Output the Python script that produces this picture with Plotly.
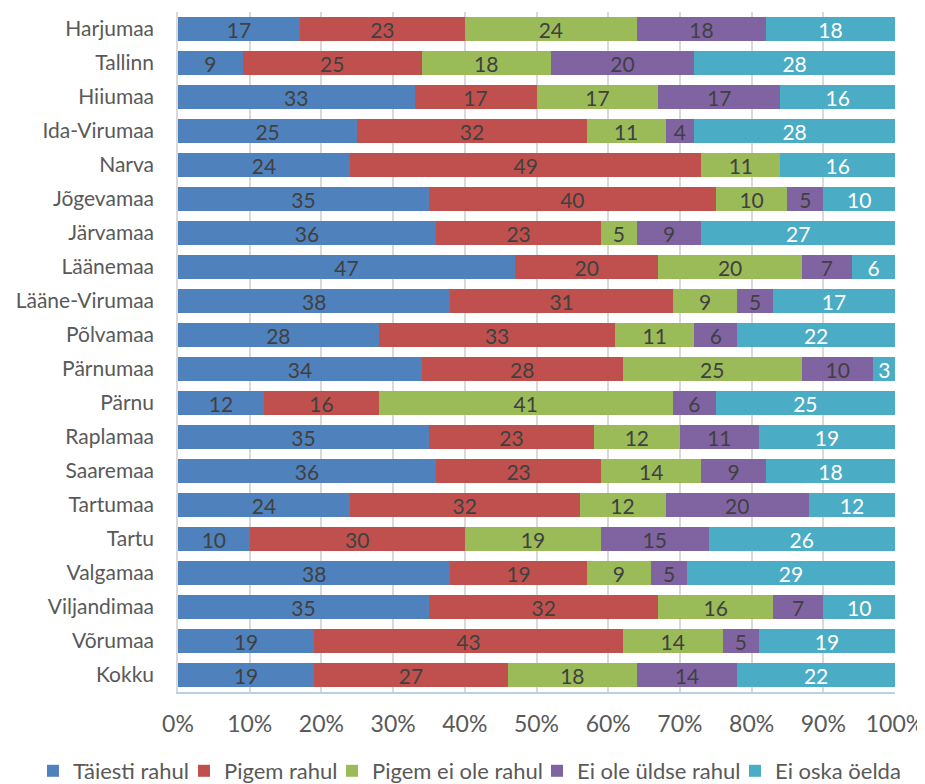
import plotly.graph_objects as go

categories = ["Harjumaa", "Tallinn", "Hiiumaa", "Ida-Virumaa", "Narva", "Jõgevamaa",
              "Järvamaa", "Läänemaa", "Lääne-Virumaa", "Põlvamaa", "Pärnumaa", "Pärnu",
              "Raplamaa", "Saaremaa", "Tartumaa", "Tartu", "Valgamaa", "Viljandimaa",
              "Võrumaa", "Kokku"]

taiesti_rahul = [17, 9, 33, 25, 24, 35, 36, 47, 38, 28, 34, 12, 35, 36, 24, 10, 38, 35, 19, 19]
pigem_rahul = [23, 25, 17, 32, 49, 40, 23, 20, 31, 33, 28, 16, 23, 23, 32, 30, 19, 32, 43, 27]
pigem_ei_ole_rahul = [24, 18, 17, 11, 11, 10, 5, 20, 9, 11, 25, 41, 12, 14, 12, 19, 9, 16, 14, 18]
ei_ole_uldse_rahul = [18, 20, 17, 4, None, 5, 9, 7, 5, 6, 10, 6, 11, 9, 20, 15, 5, 7, 5, 14]
ei_oska_oelda = [18, 28, 16, 28, 16, 10, 27, 6, 17, 22, 3, 25, 19, 18, 12, 26, 29, 10, 19, 22]

series_names = ["Täiesti rahul", "Pigem rahul", "Pigem ei ole rahul",
                "Ei ole üldse rahul", "Ei oska öelda"]
series_values = [taiesti_rahul, pigem_rahul, pigem_ei_ole_rahul,
                 ei_ole_uldse_rahul, ei_oska_oelda]
colors = ["#4F81BD", "#C0504D", "#9BBB59", "#8064A2", "#4BACC6"]
text_colors = ["#404040", "#404040", "#404040", "#404040", "#FFFFFF"]

FONT = "Lato, Calibri, Carlito, sans-serif"
W, H = 917, 776  # page body has an 8px default margin
legend_ids = ["legend", "legend2", "legend3", "legend4", "legend5"]
legend_text_start = [70, 221, 369, 574, 772]  # page px where each legend label begins

fig = go.Figure()
for name, vals, color, tcolor, lid in zip(series_names, series_values, colors,
                                          text_colors, legend_ids):
    fig.add_trace(go.Bar(
        y=categories, x=vals, name=name, orientation="h",
        marker=dict(color=color, line=dict(width=0)),
        text=[("" if v is None else str(v)) for v in vals],
        textposition="inside", insidetextanchor="middle", textangle=0,
        textfont=dict(color=tcolor, size=21, family=FONT),
        constraintext="none", cliponaxis=False,
        hoverinfo="x+y+name", legend=lid,
    ))

legend_layout = {}
for lid, xs in zip(legend_ids, legend_text_start):
    legend_layout[lid] = dict(
        orientation="h", xref="container", yref="container",
        x=(xs - 8 - 37) / W, xanchor="left",
        y=1 - (771 - 8) / H, yanchor="middle",
        font=dict(size=22, color="#595959", family=FONT),
        bgcolor="rgba(0,0,0,0)", itemwidth=30,
    )

fig.update_layout(
    barmode="stack", barnorm="percent", bargap=0.294,
    width=W, height=H,
    margin=dict(l=170, r=30, t=4, b=92),
    plot_bgcolor="white", paper_bgcolor="white",
    font=dict(family=FONT, size=20, color="#595959"),
    uniformtext=dict(minsize=21, mode="show"),
    showlegend=True,
    **legend_layout,
)
fig.update_xaxes(range=[0, 100], tickvals=list(range(0, 101, 10)),
                 ticktext=[f"{v}%" for v in range(0, 101, 10)],
                 showgrid=True, gridcolor="#D9D9D9", gridwidth=1.5,
                 zeroline=False, showline=True, linecolor="#BCCFE6", linewidth=2,
                 ticks="", ticklabelstandoff=10, automargin=False,
                 tickfont=dict(size=23, color="#595959"))
fig.update_yaxes(autorange="reversed", showgrid=False, zeroline=False,
                 showline=True, linecolor="#D9D9D9", linewidth=1.5,
                 ticks="", ticklabelstandoff=18, automargin=False,
                 tickfont=dict(size=21, color="#595959"))

fig.write_html("out.html")
